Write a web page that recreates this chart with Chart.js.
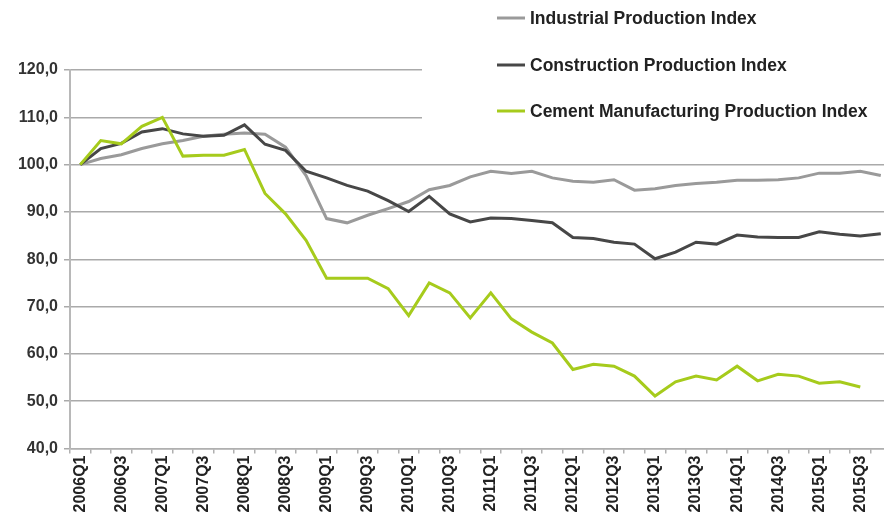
<!DOCTYPE html>
<html lang="en">
<head>
    <meta charset="UTF-8">
    <title>Production Indices</title>
    <script src="https://cdn.jsdelivr.net/npm/chart.js"></script>
    <style>
        html, body { margin: 0; padding: 0; overflow: hidden; background: #fff; }
    </style>
</head>
<body>
    <canvas id="myChart" width="902" height="523"></canvas>

    <script>
// quarters 2006Q1 .. 2015Q4
const quarters = [];
for (let y = 2006; y <= 2015; y++) {
    for (let q = 1; q <= 4; q++) quarters.push(y + 'Q' + q);
}

const industrial = [100, 101.3, 102.1, 103.4, 104.4, 105.1, 106.0, 106.4, 106.7, 106.4,
    103.7, 97.7, 88.6, 87.7, 89.3, 90.7, 92.2, 94.7, 95.6, 97.4,
    98.6, 98.1, 98.6, 97.2, 96.5, 96.3, 96.8, 94.6, 94.9, 95.6,
    96.0, 96.3, 96.7, 96.7, 96.8, 97.2, 98.2, 98.2, 98.6, 97.7];

const construction = [100, 103.4, 104.5, 106.9, 107.6, 106.5, 106.0, 106.2, 108.4, 104.3,
    103.0, 98.6, 97.2, 95.6, 94.4, 92.4, 90.1, 93.3, 89.6, 87.9,
    88.7, 88.6, 88.2, 87.7, 84.6, 84.4, 83.6, 83.2, 80.1, 81.5,
    83.6, 83.2, 85.1, 84.7, 84.6, 84.6, 85.8, 85.3, 84.9, 85.4];

const cement = [100, 105.1, 104.4, 108.1, 110.0, 101.8, 102.0, 102.0, 103.2, 93.9,
    89.6, 84.0, 76.0, 76.0, 76.0, 73.8, 68.1, 75.0, 72.9, 67.6,
    72.9, 67.4, 64.6, 62.3, 56.7, 57.8, 57.4, 55.3, 51.1, 54.1,
    55.3, 54.5, 57.4, 54.3, 55.7, 55.3, 53.8, 54.1, 53.0, null];

const seriesNames = ['Industrial Production Index', 'Construction Production Index', 'Cement Manufacturing Production Index'];
const seriesColors = ['#9a9a9a', '#474747', '#a6cb1c'];

// white box behind the legend (hides the top gridlines on the right) + legend itself
const legendBox = {
    id: 'legendBox',
    beforeDatasetsDraw(chart) {
        const ctx = chart.ctx;
        ctx.save();
        ctx.fillStyle = '#fff';
        ctx.fillRect(422, 0, chart.width - 422, 128);
        ctx.restore();
    },
    afterDraw(chart) {
        const ctx = chart.ctx;
        const rows = [18, 65, 111];
        ctx.save();
        ctx.font = 'bold 17.5px "Liberation Sans", Arial, sans-serif';
        ctx.textBaseline = 'middle';
        ctx.fillStyle = '#222';
        seriesNames.forEach((name, i) => {
            ctx.strokeStyle = seriesColors[i];
            ctx.lineWidth = 3;
            ctx.beginPath();
            ctx.moveTo(497, rows[i]);
            ctx.lineTo(525, rows[i]);
            ctx.stroke();
            ctx.fillText(name, 530, rows[i] + 1);
        });
        ctx.restore();
    }
};

const ctx = document.getElementById('myChart').getContext('2d');
const myChart = new Chart(ctx, {
    type: 'line',
    data: {
        labels: quarters,
        datasets: [
            { label: seriesNames[0], data: industrial, borderColor: seriesColors[0], order: 2 },
            { label: seriesNames[1], data: construction, borderColor: seriesColors[1], order: 1 },
            { label: seriesNames[2], data: cement, borderColor: seriesColors[2], order: 0 }
        ]
    },
    options: {
        responsive: false,
        animation: false,
        layout: { padding: { top: 70, left: 0, right: 0, bottom: 0 } },
        elements: {
            line: { borderWidth: 3, tension: 0 },
            point: { radius: 0 }
        },
        plugins: {
            legend: { display: false },
            tooltip: { enabled: false }
        },
        scales: {
            x: {
                offset: true,
                afterFit(scale) { scale.height = 74.5; },
                grid: { offset: true, drawOnChartArea: false, color: '#b0b0b0', tickLength: 5, lineWidth: 1.5 },
                border: { color: '#b0b0b0', width: 1.5 },
                ticks: {
                    autoSkip: false,
                    minRotation: 90,
                    maxRotation: 90,
                    padding: 2,
                    color: '#222',
                    font: { family: '"Liberation Sans", Arial, sans-serif', size: 16, weight: 'bold' },
                    callback(val, i) { return i % 2 === 0 ? quarters[i] : ''; }
                }
            },
            y: {
                min: 40,
                max: 120,
                afterFit(scale) { scale.width = 70; },
                grid: { color: '#aaaaaa', lineWidth: 1.5, tickLength: 6 },
                border: { color: '#b8b8b8', width: 2 },
                ticks: {
                    stepSize: 10,
                    padding: 6,
                    color: '#333',
                    font: { family: '"Liberation Sans", Arial, sans-serif', size: 16, weight: 'bold' },
                    callback(v) { return v.toFixed(1).replace('.', ','); }
                }
            }
        }
    },
    plugins: [legendBox]
});
    </script>
</body>
</html>
